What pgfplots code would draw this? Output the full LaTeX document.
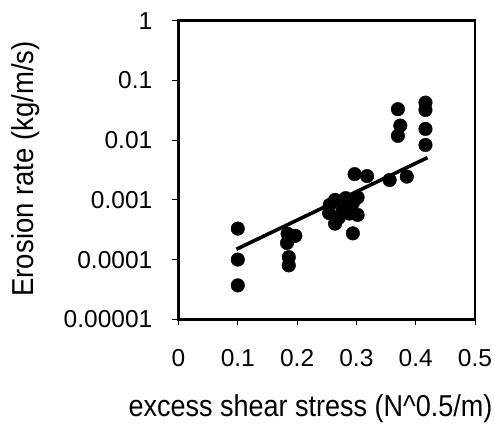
\documentclass[border=0pt]{standalone}
\usepackage{fontspec}
\setmainfont{Liberation Sans}
\usepackage{graphicx}
\usepackage{pgfplots}
\pgfplotsset{compat=1.18}

\begin{document}
\begin{tikzpicture}
\useasboundingbox (-178.5pt,-103.7pt) rectangle (316.5pt,319.3pt);
\begin{axis}[
  scale only axis, width=296.5pt, height=298.6pt,
  xmin=0, xmax=0.5, ymode=log, ymin=1e-5, ymax=1,
  xtick={0,0.1,0.2,0.3,0.4,0.5},
  xticklabels={0,0.1,0.2,0.3,0.4,0.5},
  ytick={1e-5,1e-4,1e-3,1e-2,1e-1,1},
  yticklabels={0.00001,0.0001,0.001,0.01,0.1,1},
  minor tick num=0, log basis y=10,
  yminorticks=false,
  tick align=outside, xtick pos=bottom, ytick pos=left,
  major tick length=6pt,
  every tick/.style={black, line width=0.8pt},
  axis line style={line width=2.6pt},
  tick label style={font=\fontsize{24.5}{28}\selectfont, inner sep=0pt},
  yticklabel style={anchor=east, xshift=-20pt},
  xticklabel style={anchor=north, yshift=-24pt},
  xlabel={\scalebox{1}[1.12]{excess shear stress (N\^{}0.5/m)}},
  ylabel={\scalebox{1}[1.1]{Erosion rate (kg/m/s)}},
  xlabel style={font=\fontsize{27}{32}\selectfont,
    at={(axis description cs:0.445,-0.3249)}, anchor=base},
  ylabel style={font=\fontsize{27.5}{32}\selectfont,
    at={(axis description cs:-0.4897,0.5037)}, anchor=base},
  clip=false,
]
% measured points
\addplot[only marks, mark=*, mark size=6.8pt, black] coordinates {
  (0.100,3.3e-4) (0.100,1.0e-4) (0.100,3.7e-5)
  (0.184,2.7e-4) (0.197,2.5e-4) (0.183,1.9e-4) (0.186,1.1e-4) (0.186,8.0e-5)
  (0.255,8.2e-4) (0.264,1.0e-3) (0.254,6.0e-4) (0.264,4.0e-4)
  (0.277,6.8e-4) (0.282,1.07e-3) (0.294,8.8e-4) (0.302,1.1e-3)
  (0.302,5.6e-4) (0.288,5.9e-4) (0.294,2.75e-4) (0.270,5.0e-4)
  (0.297,2.7e-3) (0.318,2.5e-3) (0.356,2.15e-3) (0.385,2.45e-3)
  (0.370,0.033) (0.374,0.0175) (0.370,0.0118)
  (0.4165,0.0425) (0.4165,0.032) (0.4165,0.0154) (0.4165,0.0083)
};
% fitted trend
\addplot[black, line width=3.6pt] coordinates {(0.0976,1.49e-4) (0.42,5.1e-3)};
\end{axis}
\end{tikzpicture}
\end{document}
